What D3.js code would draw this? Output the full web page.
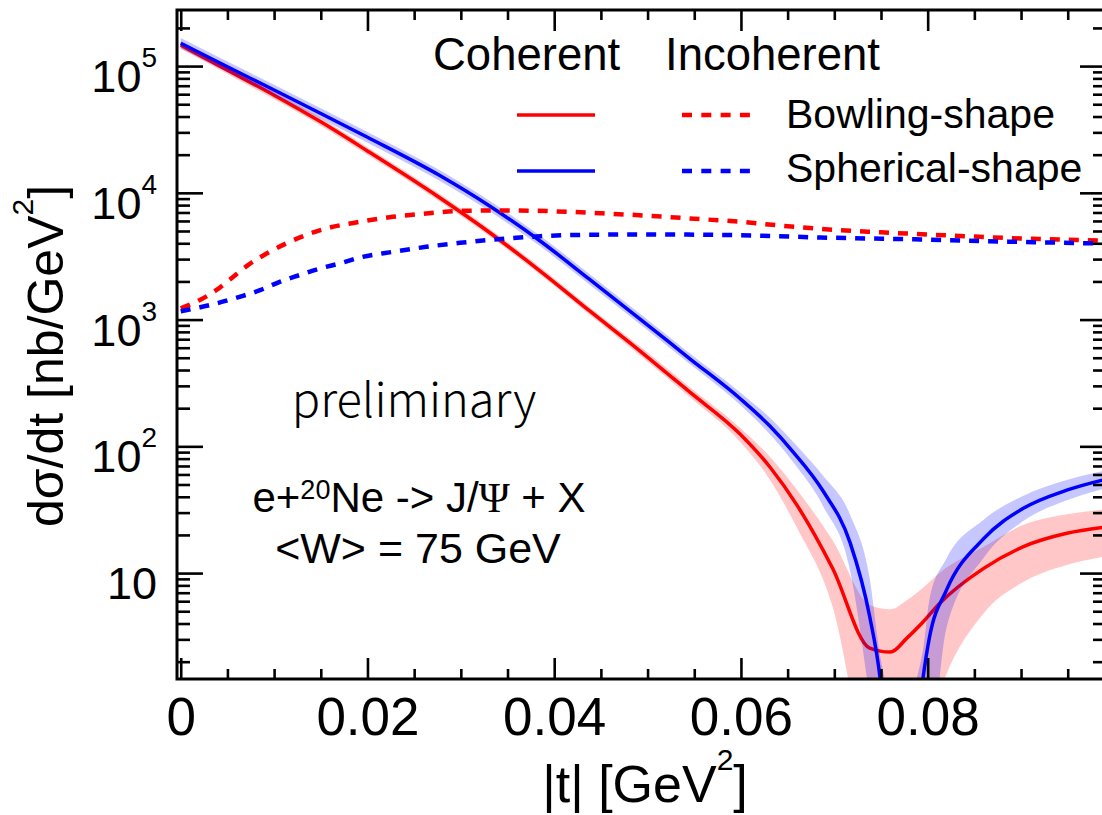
<!DOCTYPE html>
<html>
<head>
<meta charset="utf-8">
<script src="https://cdn.jsdelivr.net/npm/d3@7"></script>
<style>
  html, body { margin: 0; padding: 0; background: #fff; overflow: hidden; }
  text { font-family: "Liberation Sans", Arial, Helvetica, sans-serif; fill: #000; }
</style>
</head>
<body>
<svg id="chart" width="1102" height="815"></svg>
<script>
// ---- Coherent, bowling-shape 20Ne (central value and uncertainty band)
const tCohBowling   = [0, 0.005, 0.01, 0.015, 0.02, 0.0277, 0.033, 0.0385, 0.0438, 0.0492, 0.0545, 0.0599, 0.0631, 0.066, 0.0698, 0.0738, 0.076, 0.0778, 0.0795, 0.0813, 0.086, 0.0902, 0.0949, 0.0991];
const cohBowling    = [146600, 92900, 58900, 36300, 21380, 9183, 4909, 2415, 1169.5, 564.9, 268.5, 125.0, 68.7, 34.4, 10.96, 2.56, 2.38, 3.08, 4.11, 5.78, 10.9, 16.1, 20.6, 23.1];
const cohBowlingLo  = [136800, 86700, 54950, 33880, 19950, 8570, 4581, 2254, 1091, 521.2, 244.9, 108.9, 54.6, 22.75, 5.50, 0.256, 0.150, 0.194, 0.411, 1.153, 4.83, 8.47, 11.6, 13.6];
const cohBowlingHi  = [157000, 99540, 63100, 38900, 22900, 9840, 5260, 2588, 1253, 612.4, 294.4, 140.3, 82.6, 45.4, 18.2, 5.61, 5.18, 6.14, 7.66, 10.05, 16.1, 23.9, 29.1, 31.9];

// ---- Coherent, spherical-shape 20Ne
const tCohSpherical  = [0, 0.005, 0.01, 0.015, 0.02, 0.0277, 0.033, 0.0385, 0.0438, 0.0492, 0.0545, 0.0599, 0.0631, 0.0656, 0.0688, 0.0717, 0.0738, 0.0749, 0.0765, 0.0775, 0.0795, 0.0802, 0.082, 0.086, 0.0902, 0.0949, 0.0991];
const cohSpherical   = [151400, 98700, 64770, 42300, 27420, 13750, 7950, 4170, 2072, 1010, 493, 238.5, 144.6, 90.2, 44.4, 17.3, 4.50, 1.49, 0.05, 0.05, 1.49, 3.13, 7.31, 18.7, 32.3, 45.1, 55.0];
const cohSphericalLo = [137450, 89600, 58800, 38400, 24890, 12480, 7217, 3786, 1881, 916.9, 447.6, 212.6, 124.5, 75.0, 33.7, 10.4, 1.03, 0.251, 0.01, 0.01, 0.316, 0.367, 3.66, 13.2, 25.6, 37.5, 46.8];
const cohSphericalHi = [166770, 108700, 71340, 46590, 30200, 15150, 8757, 4593, 2282, 1112.5, 543.0, 267.6, 167.9, 108.4, 58.5, 28.7, 8.97, 2.24, 1.0, 1.0, 2.45, 6.25, 13.0, 26.4, 40.6, 54.2, 64.6];

// ---- Incoherent
const tIncBowling    = [0, 0.002, 0.0038, 0.0054, 0.0072, 0.0092, 0.0113, 0.0134, 0.0156, 0.0192, 0.0227, 0.0263, 0.0299, 0.035, 0.040, 0.045, 0.050, 0.055, 0.060, 0.065, 0.070, 0.075, 0.080, 0.085, 0.090, 0.095, 0.0991];
const incBowling     = [1225, 1422, 1706, 2110, 2686, 3324, 3990, 4640, 5236, 5907, 6468, 6878, 7205, 7260, 7150, 6900, 6600, 6250, 5900, 5450, 5100, 4880, 4690, 4520, 4360, 4270, 4200];
const tIncSpherical  = [0, 0.0031, 0.0063, 0.0085, 0.0106, 0.0127, 0.0149, 0.017, 0.0192, 0.0227, 0.0263, 0.0299, 0.0349, 0.0385, 0.045, 0.050, 0.055, 0.060, 0.0685, 0.0792, 0.0899, 0.0991];
const incSpherical   = [1164, 1300, 1511, 1706, 1985, 2240, 2530, 2770, 3090, 3420, 3750, 4030, 4365, 4550, 4680, 4700, 4680, 4630, 4445, 4290, 4100, 3980];

// ---- Axis ticks
const xMajorTicks = [0, 0.02, 0.04, 0.06, 0.08];
const xTickLabels = ["0", "0.02", "0.04", "0.06", "0.08"];
const xMinorTicks = d3.range(0, 0.0991, 0.005).filter(v => Math.abs(v / 0.02 - Math.round(v / 0.02)) > 1e-6);
const yMajorTicks = [10, 100, 1000, 10000, 100000];
const yTickExponents = ["", "2", "3", "4", "5"];

const RED = "#ff0000", BLUE = "#0000ff";

const svg = d3.select("#chart");
const X0 = 177, X1 = 1106, Y0 = 10, Y1 = 679;
const x = d3.scaleLinear().domain([-0.0004, 0.0991]).range([X0, X1]);
const y = d3.scaleLog().domain([1.46, 2.77e5]).range([Y1, Y0]);

const yMinorTicks = [];
[1, 10, 100, 1000, 10000, 100000].forEach(dec => {
  for (let k = 2; k <= 9; k++) {
    const v = k * dec;
    if (v >= 1.46 && v <= 2.77e5) yMinorTicks.push(v);
  }
});

svg.append("defs").append("clipPath").attr("id", "plotClip")
  .append("rect").attr("x", X0).attr("y", Y0).attr("width", X1 - X0).attr("height", Y1 - Y0);

const plot = svg.append("g").attr("clip-path", "url(#plotClip)");

function rows(ts, vs, lo, hi) {
  return ts.map((t, i) => ({ t, v: vs[i], lo: lo ? lo[i] : null, hi: hi ? hi[i] : null }));
}
const area = d3.area().x(d => x(d.t)).y0(d => y(d.lo)).y1(d => y(d.hi)).curve(d3.curveMonotoneX);
const line = d3.line().x(d => x(d.t)).y(d => y(d.v)).curve(d3.curveMonotoneX);

const bowl = rows(tCohBowling, cohBowling, cohBowlingLo, cohBowlingHi);
const sph = rows(tCohSpherical, cohSpherical, cohSphericalLo, cohSphericalHi);

// coherent bands and central curves
plot.append("path").attr("d", area(bowl)).attr("fill", RED).attr("fill-opacity", 0.22);
plot.append("path").attr("d", line(bowl)).attr("fill", "none").attr("stroke", RED).attr("stroke-width", 3.5);
plot.append("path").attr("d", area(sph)).attr("fill", BLUE).attr("fill-opacity", 0.22);
plot.append("path").attr("d", line(sph)).attr("fill", "none").attr("stroke", BLUE).attr("stroke-width", 3.5);

// incoherent curves
plot.append("path").attr("d", line(rows(tIncBowling, incBowling)))
  .attr("fill", "none").attr("stroke", RED).attr("stroke-width", 4.5).attr("stroke-dasharray", "10,9");
plot.append("path").attr("d", line(rows(tIncSpherical, incSpherical)))
  .attr("fill", "none").attr("stroke", BLUE).attr("stroke-width", 4.5).attr("stroke-dasharray", "10,9");

// ---- Axes (ticks point inward on all four sides)
function styleAxis(g) {
  g.select(".domain").remove();
  g.selectAll(".tick line").attr("stroke", "#000").attr("stroke-width", 2.6);
}
const noLabel = () => "";
svg.append("g").attr("transform", `translate(0,${Y1})`)
  .call(d3.axisBottom(x).tickValues(xMinorTicks).tickSize(-10).tickFormat(noLabel)).call(styleAxis);
svg.append("g").attr("transform", `translate(0,${Y1})`)
  .call(d3.axisBottom(x).tickValues(xMajorTicks).tickSize(-21).tickPadding(18)
    .tickFormat((d, i) => xTickLabels[i])).call(styleAxis)
  .selectAll("text").style("font-size", "53px").attr("fill", "#000");
svg.append("g").attr("transform", `translate(0,${Y0})`)
  .call(d3.axisTop(x).tickValues(xMinorTicks).tickSize(-10).tickFormat(noLabel)).call(styleAxis);
svg.append("g").attr("transform", `translate(0,${Y0})`)
  .call(d3.axisTop(x).tickValues(xMajorTicks).tickSize(-21).tickFormat(noLabel)).call(styleAxis);

svg.append("g").attr("transform", `translate(${X0},0)`)
  .call(d3.axisLeft(y).tickValues(yMinorTicks).tickSize(-13).tickFormat(noLabel)).call(styleAxis);
svg.append("g").attr("transform", `translate(${X0},0)`)
  .call(d3.axisLeft(y).tickValues(yMajorTicks).tickSize(-26).tickFormat(noLabel)).call(styleAxis);
svg.append("g").attr("transform", `translate(${X1},0)`)
  .call(d3.axisRight(y).tickValues(yMinorTicks).tickSize(-13).tickFormat(noLabel)).call(styleAxis);
svg.append("g").attr("transform", `translate(${X1},0)`)
  .call(d3.axisRight(y).tickValues(yMajorTicks).tickSize(-26).tickFormat(noLabel)).call(styleAxis);

// frame
svg.append("rect").attr("x", X0).attr("y", Y0).attr("width", X1 - X0).attr("height", Y1 - Y0)
  .attr("fill", "none").attr("stroke", "#000").attr("stroke-width", 3);

// y tick labels as powers of ten
yMajorTicks.forEach((v, i) => {
  const t = svg.append("text").attr("x", 157).attr("y", y(v) + 26)
    .attr("text-anchor", "end").style("font-size", "45px");
  t.append("tspan").text("10");
  if (yTickExponents[i]) {
    t.append("tspan").attr("dy", -25).style("font-size", "28px").text(yTickExponents[i]);
  }
});

// axis titles
const xt = svg.append("text").attr("x", 645).attr("y", 802).attr("text-anchor", "middle").style("font-size", "52px");
xt.append("tspan").text("|t| [GeV");
xt.append("tspan").attr("dy", -32).style("font-size", "30px").text("2");
xt.append("tspan").attr("dy", 32).text("]");

const yt = svg.append("text").attr("transform", "translate(63,356) rotate(-90)")
  .attr("text-anchor", "middle").style("font-size", "50px");
yt.append("tspan").text("dσ/dt [nb/GeV");
yt.append("tspan").attr("dy", -30).style("font-size", "30px").text("2");
yt.append("tspan").attr("dy", 30).text("]");

// legend
svg.append("text").attr("x", 433).attr("y", 70).style("font-size", "45.5px").text("Coherent");
svg.append("text").attr("x", 665).attr("y", 70).style("font-size", "45.5px").text("Incoherent");
const legendRows = [
  { label: "Bowling-shape", color: RED, ly: 115, ty: 128 },
  { label: "Spherical-shape", color: BLUE, ly: 171, ty: 182 }
];
legendRows.forEach(r => {
  svg.append("line").attr("x1", 517).attr("x2", 595).attr("y1", r.ly).attr("y2", r.ly)
    .attr("stroke", r.color).attr("stroke-width", 3.5);
  svg.append("line").attr("x1", 682).attr("x2", 750).attr("y1", r.ly).attr("y2", r.ly)
    .attr("stroke", r.color).attr("stroke-width", 4.5).attr("stroke-dasharray", "10,9.3");
  svg.append("text").attr("x", 786).attr("y", r.ty).style("font-size", "41px").text(r.label);
});

// annotations
svg.append("text").attr("x", 414).attr("y", 417).attr("text-anchor", "middle")
  .style("font-family", "'Noto Sans CJK JP', 'Noto Sans', Lato, sans-serif")
  .style("font-weight", 300).style("font-size", "47px").text("preliminary");

const reac = svg.append("text").attr("x", 419).attr("y", 512).attr("text-anchor", "middle").style("font-size", "42px");
reac.append("tspan").text("e+");
reac.append("tspan").attr("dy", -13).style("font-size", "27px").text("20");
reac.append("tspan").attr("dy", 13).text("Ne -> J/");
reac.append("tspan").style("font-family", "'Liberation Serif', 'Times New Roman', serif").text("Ψ");
reac.append("tspan").text(" + X");

svg.append("text").attr("x", 418).attr("y", 563).attr("text-anchor", "middle").style("font-size", "43px")
  .text("<W> = 75 GeV");
</script>
</body>
</html>
